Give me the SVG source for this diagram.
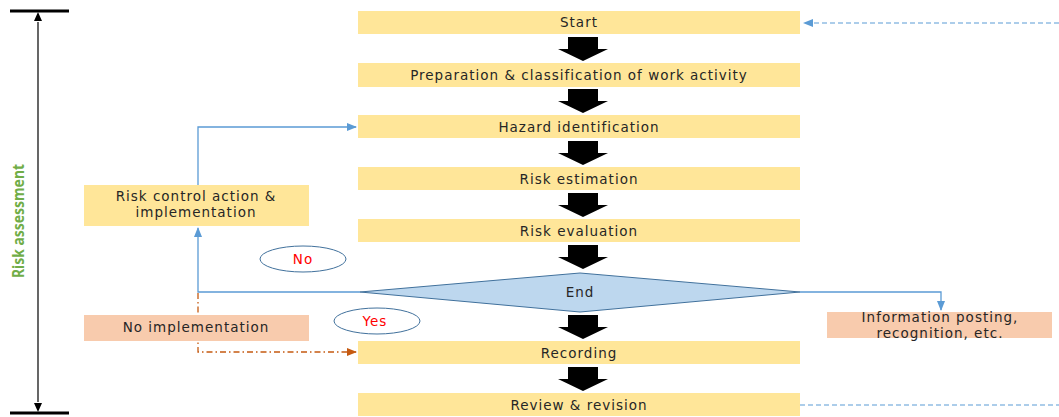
<svg xmlns="http://www.w3.org/2000/svg" width="1059" height="417" viewBox="0 0 1059 417">
<style>
.box{fill:#FFE699}
.pink{fill:#F8CBAD}
.t{font-family:"DejaVu Sans","Noto Sans",sans-serif;font-size:13.5px;letter-spacing:1px;fill:#262626;text-anchor:middle}
.blue{stroke:#5B9BD5;stroke-width:1.3;fill:none}
.orange{stroke:#C55A11;stroke-width:1.3;fill:none;stroke-dasharray:6 3 1.5 3}
.dash{stroke:#5B9BD5;stroke-width:1.1;fill:none;stroke-dasharray:5 3}
.ell{fill:#fff;stroke:#41719C;stroke-width:1}
.red{font-family:"DejaVu Sans","Noto Sans",sans-serif;font-size:13.5px;letter-spacing:1px;fill:#FF0000;text-anchor:middle}
</style>
<defs>
<marker id="ab" markerWidth="10" markerHeight="8" refX="9" refY="4" orient="auto" markerUnits="userSpaceOnUse"><path d="M0,0 L10,4 L0,8 Z" fill="#5B9BD5"/></marker>
<marker id="ao" markerWidth="10" markerHeight="8" refX="9" refY="4" orient="auto" markerUnits="userSpaceOnUse"><path d="M0,0 L10,4 L0,8 Z" fill="#C55A11"/></marker>
<path id="bigArrow" d="M-15,0 H15 V12 H25 L0,24 L-25,12 H-15 Z" fill="#000"/>
</defs>

<g id="connectors">
<use href="#bigArrow" x="583" y="37"/>
<use href="#bigArrow" x="583" y="89"/>
<use href="#bigArrow" x="583" y="141"/>
<use href="#bigArrow" x="583" y="193"/>
<use href="#bigArrow" x="583" y="245"/>
<use href="#bigArrow" x="583" y="315"/>
<use href="#bigArrow" x="583" y="367"/>
<polyline class="blue" points="360,292 198,292 198,228" marker-end="url(#ab)"/>
<polyline class="blue" points="198,185 198,127 356,127" marker-end="url(#ab)"/>
<polyline class="orange" points="198,293 198,352 356,352" marker-end="url(#ao)"/>
<polyline class="blue" points="800,292 941,292 941,310" marker-end="url(#ab)"/>
<line class="dash" x1="1059" y1="23" x2="804" y2="23" marker-end="url(#ab)"/>
<line class="dash" x1="800" y1="405" x2="1059" y2="405"/>
<line x1="10" y1="11" x2="69" y2="11" stroke="#000" stroke-width="3"/>
<line x1="10" y1="413" x2="69" y2="413" stroke="#000" stroke-width="3"/>
<line x1="38" y1="22" x2="38" y2="402" stroke="#000" stroke-width="1.2"/>
<path d="M38,12 L42,21 L34,21 Z M38,412 L42,403 L34,403 Z" fill="#000"/>
</g>

<text x="24" y="221" transform="rotate(-90 24 221)" font-family="Noto Sans, sans-serif" font-size="16" font-weight="bold" fill="#70AD47" text-anchor="middle" textLength="114" lengthAdjust="spacingAndGlyphs">Risk assessment</text>

<g id="start"><rect class="box" x="358" y="11" width="442" height="23"/><text class="t" x="579" y="27">Start</text></g>
<g id="prep"><rect class="box" x="358" y="63" width="442" height="24"/><text class="t" x="579" y="79.5">Preparation &amp; classification of work activity</text></g>
<g id="hazard"><rect class="box" x="358" y="115" width="442" height="23"/><text class="t" x="579" y="131.5">Hazard identification</text></g>
<g id="estimation"><rect class="box" x="358" y="167" width="442" height="23"/><text class="t" x="579" y="183.5">Risk estimation</text></g>
<g id="evaluation"><rect class="box" x="358" y="219" width="442" height="23"/><text class="t" x="579" y="235.5">Risk evaluation</text></g>
<g id="end"><polygon points="360,292 580,273 800,292 580,312" fill="#BDD7EE" stroke="#41719C" stroke-width="1"/><text class="t" x="580" y="297">End</text></g>
<g id="recording"><rect class="box" x="358" y="341" width="442" height="23"/><text class="t" x="579" y="357.5">Recording</text></g>
<g id="review"><rect class="box" x="358" y="393" width="442" height="23"/><text class="t" x="579" y="409.5">Review &amp; revision</text></g>
<g id="control"><rect class="box" x="84" y="185" width="225" height="41"/><text class="t" x="196" y="201">Risk control action &amp;</text><text class="t" x="196" y="217">implementation</text></g>
<g id="noimpl"><rect class="pink" x="84" y="315" width="225" height="26"/><text class="t" x="196" y="332">No implementation</text></g>
<g id="info"><rect class="pink" x="827" y="312" width="225" height="26"/><text class="t" x="940" y="322">Information posting,</text><text class="t" x="940" y="338">recognition, etc.</text></g>
<g id="no"><ellipse class="ell" cx="303" cy="259" rx="43" ry="13"/><text class="red" x="303" y="264">No</text></g>
<g id="yes"><ellipse class="ell" cx="377" cy="321" rx="43" ry="13"/><text class="red" x="375" y="326">Yes</text></g>
</svg>
